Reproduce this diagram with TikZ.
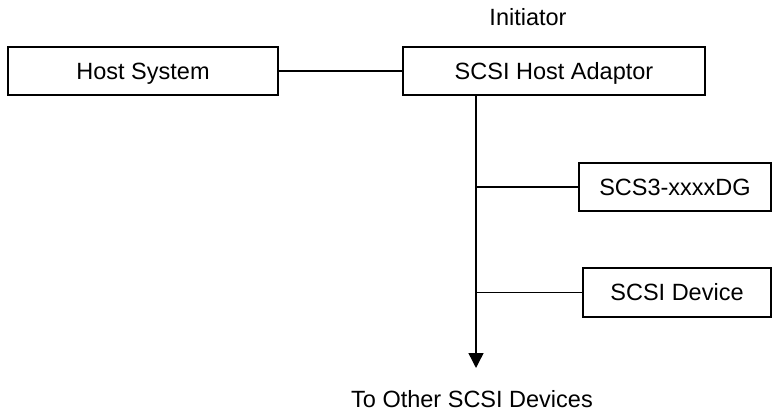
\documentclass[tikz,border=0pt]{standalone}
\usepackage{fontspec}
\setmainfont{Liberation Sans}
\usetikzlibrary{arrows.meta}
\begin{document}
\begin{tikzpicture}[x=1pt,y=-1pt,
  every node/.style={font=\fontsize{23.5}{27}\selectfont, inner sep=0pt, text height=16.5pt, text depth=0pt},
  box/.style={draw, line width=1.4pt, rectangle, minimum height=48pt},
  wire/.style={line width=1.4pt},
  lbl/.style={}]
\useasboundingbox (0,0) rectangle (773,412);
\node[box, minimum width=270pt] (host) at (143,71) {Host System};
\node[box, minimum width=302pt] (hba) at (554,71) {SCSI Host Adaptor};
\node[lbl] (init) at (528,17.5) {Initiator};
\node[box, minimum width=192pt] (scs3) at (675,187) {SCS3-xxxxDG};
\node[box, minimum width=188pt, minimum height=49pt] (dev) at (677,292.5) {SCSI Device};
\node[lbl] (other) at (472,399) {To Other SCSI Devices};
\coordinate (top) at (476,95);
\coordinate (tip) at (476,368);
\draw[wire] (host.east) -- (hba.west);
\draw[wire, -{Triangle[width=15pt,length=15pt]}] (top) -- (tip);
\draw[wire] (scs3.west) -- (scs3.west -| top);
\draw[wire] (dev.west) -- (dev.west -| top);
\end{tikzpicture}
\end{document}
